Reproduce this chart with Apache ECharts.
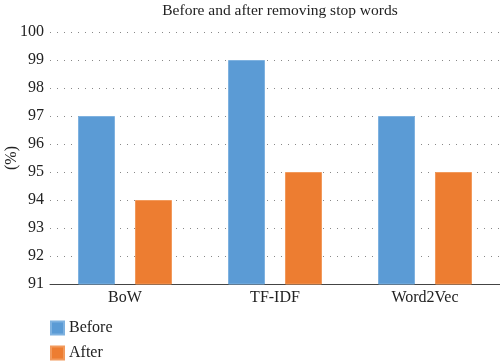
<!DOCTYPE html>
<html><head><meta charset="utf-8">
<script src="https://cdn.jsdelivr.net/npm/echarts@6/dist/echarts.min.js"></script>
<style>html,body{margin:0;padding:0;background:#fff}#c{width:500px;height:361px}</style>
</head><body><div id="c"></div>
<script>
const categories = ['BoW', 'TF-IDF', 'Word2Vec'];
const beforeValues = [97, 99, 97];
const afterValues = [94, 95, 95];
const titleText = 'Before and after removing stop words';
const font = 'Liberation Serif';
const chart = echarts.init(document.getElementById('c'));
chart.setOption({
  animation: false,
  title: { text: titleText, left: 275, textAlign: 'center', top: -2, textStyle: { fontFamily: font, fontSize: 15.5, fontWeight: 'normal', color: '#222' } },
  grid: { left: 50, right: 0, top: 32, bottom: 77, containLabel: false, outerBoundsMode: 'none' },
  legend: {
    orient: 'vertical', left: 50, top: 320, padding: 0, itemWidth: 13, itemHeight: 13, itemGap: 9,
    icon: 'rect', textStyle: { fontFamily: font, fontSize: 16, color: '#222' },
    data: ['Before', 'After']
  },
  xAxis: {
    type: 'category', data: categories,
    axisLine: { lineStyle: { color: '#444', width: 1 } },
    axisTick: { show: false },
    axisLabel: { fontFamily: font, fontSize: 16, color: '#222', margin: 6 }
  },
  yAxis: {
    type: 'value', min: 91, max: 100, interval: 1,
    name: '(%)', nameLocation: 'middle', nameGap: 30, nameRotate: 90, nameMoveOverlap: false,
    nameTextStyle: { fontFamily: font, fontSize: 16, color: '#222' },
    axisLine: { show: false }, axisTick: { show: false },
    axisLabel: { fontFamily: font, fontSize: 16, color: '#222', margin: 6 },
    splitLine: { lineStyle: { type: [1, 6], color: '#888', width: 1 } }
  },
  series: [
    { name: 'Before', type: 'bar', data: beforeValues, barWidth: 37, barGap: '54%',
      itemStyle: { color: '#5B9BD5', borderColor: '#7FB2E0', borderWidth: 1 } },
    { name: 'After', type: 'bar', data: afterValues, barWidth: 37,
      itemStyle: { color: '#ED7D31', borderColor: '#F29A5C', borderWidth: 1 } }
  ]
});
</script></body></html>
